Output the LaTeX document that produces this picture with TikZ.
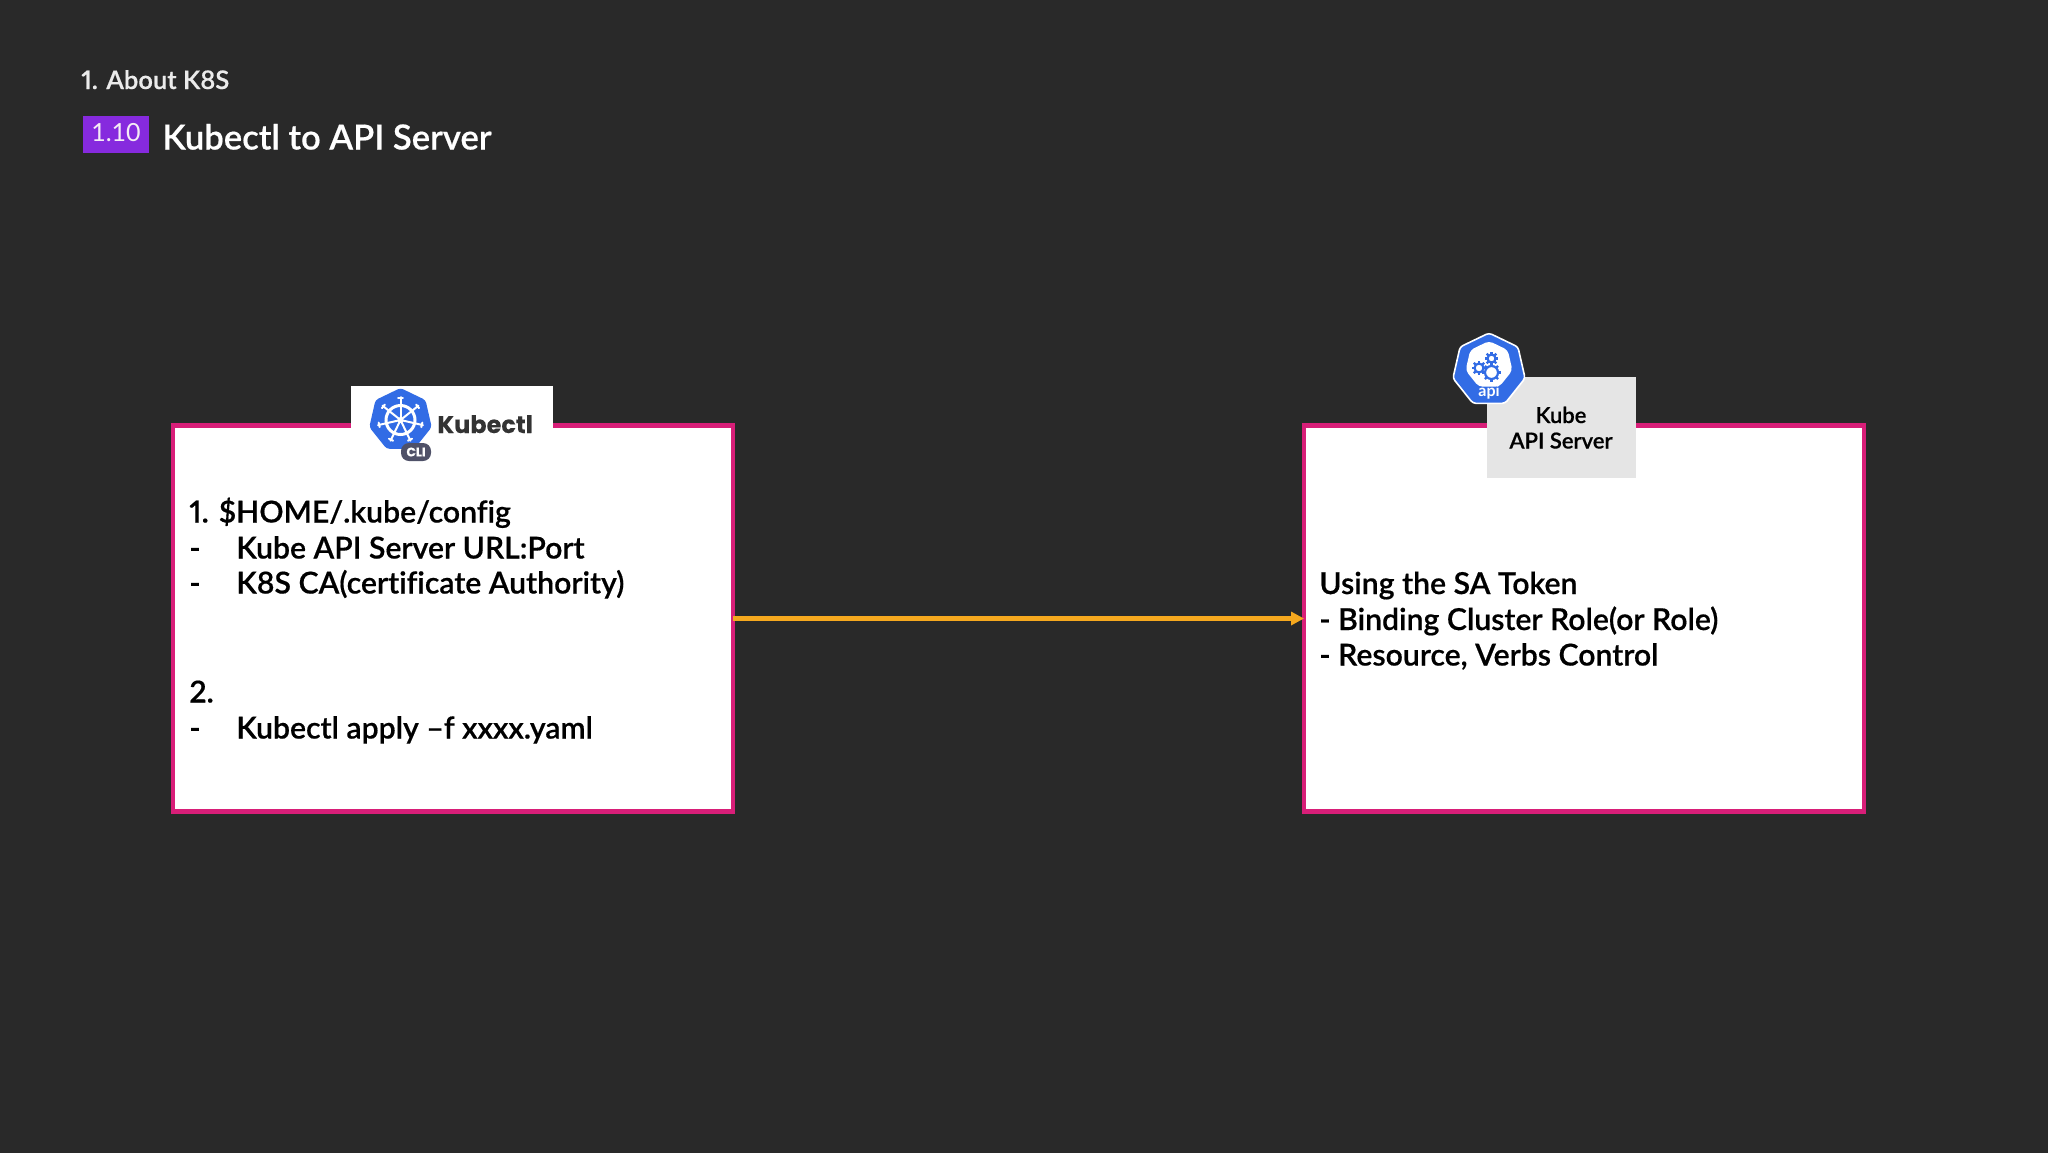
\documentclass[tikz,border=0pt]{standalone}
\usepackage{fontspec}
\setmainfont{Lato}
\newfontfamily\boldish[Numbers=Proportional,Ligatures=NoCommon,FakeBold=0.45]{Lato Semibold}
\newfontfamily\logofont[FakeBold=0.2]{Poppins}
\usetikzlibrary{positioning,arrows.meta,shapes.geometric}
\definecolor{slidebg}{HTML}{292929}
\definecolor{framepink}{HTML}{D81E78}
\definecolor{flowamber}{HTML}{F5A81E}
\definecolor{badgeviolet}{HTML}{862ADE}
\definecolor{k8sblue}{HTML}{326CE5}
\definecolor{cligrey}{HTML}{4F5168}
\newcommand{\dashitem}[1]{\makebox[23.5pt][l]{-}#1}
\tikzset{
  main box/.style={rectangle,draw=framepink,line width=2.25pt,fill=white,minimum width=280pt,minimum height=193pt,inner sep=0,outer sep=0},
  body line/.style={anchor=base west,inner sep=0,text=black,font=\boldish\fontsize{15.1}{18}\selectfont},
  heptagon/.style={regular polygon,regular polygon sides=7,inner sep=0,fill=k8sblue,rounded corners=1.5pt}
}
\begin{document}
\begin{tikzpicture}[x=0.5pt,y=-0.5pt]
    \useasboundingbox (0,0) rectangle (2048,1152);
    \fill[slidebg] (-10,-10) rectangle (2058,1162);

		\node[anchor=base west,inner sep=0,text=white!92!black,font=\boldish\fontsize{12.8}{15}\selectfont](chapter) at (81,89){1. About K8S};
		\node[rectangle,fill=badgeviolet,minimum width=33pt,minimum height=18.5pt,inner sep=0](badge) at (115.5,134.5){};
		\node[anchor=base,inner sep=0,text=violet!8!white,font=\fontsize{12.5}{15}\selectfont](badgetext) at (116,141.5){1.10};
		\node[anchor=base west,inner sep=0,text=white,font=\boldish\fontsize{17.3}{20}\selectfont](title) at (162,149.5){Kubectl to API Server};

		\node[main box](kubectlbox) at (453,618.5){};
		\node[main box](apibox)[right = 285.5pt of kubectlbox]{};

		% kubectl tab and logo
		\node[rectangle,fill=white,minimum width=101pt,minimum height=21pt,inner sep=0](kubectltab) at (451.5,407){};
		\node[heptagon,minimum size=32pt](kubectllogo) at (400.5,420){};
		\begin{scope}[shift={(kubectllogo.center)},white]
			\draw[line width=1.5pt] (0,0) circle (14.5);
			\fill (0,0) circle (3);
			\foreach \k in {0,...,6}{
				\draw[line width=1pt,line cap=round] (-90+\k*360/7:0) -- (-90+\k*360/7:23);
				\draw[line width=1pt,line cap=round] (-90+\k*360/7+6:22) -- (-90+\k*360/7-6:22);
			}
		\end{scope}
		\node[anchor=base west,inner sep=0,text=black!80,font=\logofont\fontsize{12}{14}\selectfont\bfseries](kubectlname) at (437,433){Kubectl};
		\node[rectangle,rounded corners=4pt,fill=cligrey,minimum width=15pt,minimum height=9pt,inner sep=0,text=white,font=\logofont\bfseries\fontsize{6.2}{7}\selectfont](cli) at (416,452){CLI};

		% api server tab and logo
		\node[rectangle,fill=black!10,minimum width=74.5pt,minimum height=50.5pt,inner sep=0](apitab) at (1561.5,427.5){};
		\node[anchor=base,inner sep=0,text=black,font=\boldish\fontsize{11}{13}\selectfont](apitabtop) at (1561,423){Kube};
		\node[anchor=base,inner sep=0,text=black,font=\boldish\fontsize{11}{13}\selectfont](apitabbot) at (1561,448.5){API Server};
		\node[heptagon,draw=white,line width=0.8pt,minimum size=37pt](apilogo) at (1489,370){};
		\node[regular polygon,regular polygon sides=7,inner sep=0,fill=white,rounded corners=2pt,minimum size=24pt](apiinner) at (1489,365){};
		\foreach \cx/\cy/\r in {1479/368/4.5,1491.5/358.5/4,1491.5/372.5/6.5}{
			\draw[k8sblue,line width=1.1pt] (\cx,\cy) circle (\r);
			\foreach \a in {0,45,...,315}
				\draw[k8sblue,line width=1.1pt] (\cx,\cy) ++(\a:\r) -- ++(\a:2.8);
		}
		\node[inner sep=0,text=white,font=\bfseries\fontsize{8}{9}\selectfont](apiword) at (1489,392){api};

		% left text
		\node[body line](l1) at (189,522.5){1. \$HOME/.kube/config};
		\node[body line](l2) at (189,558.5){\dashitem{Kube API Server URL:Port}};
		\node[body line](l3) at (189,593.5){\dashitem{K8S CA(certificate Authority)}};
		\node[body line](l4) at (189,702.5){2.};
		\node[body line](l5) at (189,738.5){\dashitem{Kubectl apply –f xxxx.yaml}};

		% right text
		\node[body line](r1) at (1319,594){Using the SA Token};
		\node[body line](r2) at (1319,630){- Binding Cluster Role(or Role)};
		\node[body line](r3) at (1319,665.5){- Resource, Verbs Control};

		\path (kubectlbox) edge [flowamber,line width=2.5pt,-{Triangle[length=6.5pt,width=6.5pt]}] (apibox);

	\end{tikzpicture}
\end{document}
